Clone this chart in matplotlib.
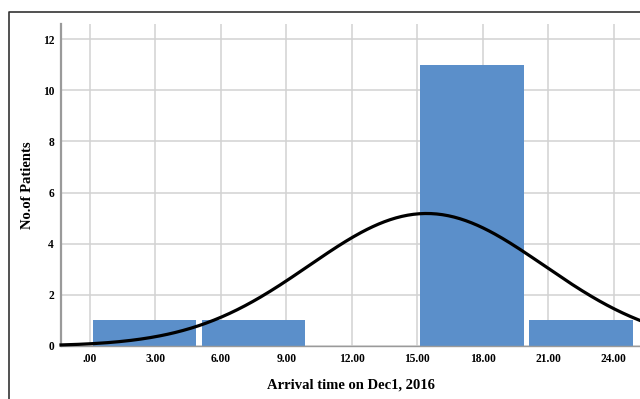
import numpy as np
import matplotlib
matplotlib.use("Agg")
import matplotlib.pyplot as plt
from matplotlib.lines import Line2D

# histogram of arrival times (bin width 5 h)
bin_left = [0, 5, 15, 20]
counts = [1, 1, 11, 1]
bin_width = 5

# normal fit shown by the software
fit_mean = 15.42
fit_sd = 5.39
n_patients = 14

xticks = [0, 3, 6, 9, 12, 15, 18, 21, 24]
xtick_labels = [".00", "3.00", "6.00", "9.00", "12.00", "15.00", "18.00", "21.00", "24.00"]
yticks = [0, 2, 4, 6, 8, 10, 12]

plt.rcParams['font.family'] = ['Liberation Serif', 'DejaVu Serif']

fig = plt.figure(figsize=(6.4, 3.99), dpi=100)
ax = fig.add_axes([61 / 640, 1 - 346 / 399, 1 - 61 / 640, (346 - 24) / 399])

gap = 0.27
centers = [b + bin_width / 2 for b in bin_left]
ax.bar(centers, counts, width=bin_width - gap, color='#5b8fca', zorder=2)

xs = np.linspace(-1.33, 25.2, 300)
ys = n_patients * bin_width / (fit_sd * np.sqrt(2 * np.pi)) * np.exp(-(xs - fit_mean) ** 2 / (2 * fit_sd ** 2))
ax.plot(xs, ys, color='black', lw=2.3, zorder=3, clip_on=False)

ax.set_xlim(-1.33, 25.2)
ax.set_ylim(0, 12.59)
ax.set_xticks(xticks)
ax.set_xticklabels(xtick_labels)
ax.set_yticks(yticks)
ax.tick_params(length=0, labelsize=8.3, pad=5)
for lab in ax.get_xticklabels() + ax.get_yticklabels():
    lab.set_fontweight('bold')

ax.grid(True, color='#d2d2d2', lw=1.1, zorder=0)
ax.set_axisbelow(True)
for s in ['top', 'right']:
    ax.spines[s].set_visible(False)
ax.spines['left'].set_color('#9a9a9a')
ax.spines['left'].set_linewidth(1.6)
ax.spines['bottom'].set_color('#9a9a9a')
ax.spines['bottom'].set_linewidth(1.0)

ax.set_xlabel('Arrival time on Dec1, 2016', fontsize=10.5, fontweight='bold', labelpad=10)
ax.set_ylabel('No.of Patients', fontsize=10.5, fontweight='bold', labelpad=6)

# outer frame (left and top edges of the exported chart)
fig.add_artist(Line2D([9 / 640, 9 / 640, 1.0], [0, 1 - 12 / 399, 1 - 12 / 399],
                      transform=fig.transFigure, color='#333333', lw=1.2))

fig.savefig('out.png', dpi=100)
